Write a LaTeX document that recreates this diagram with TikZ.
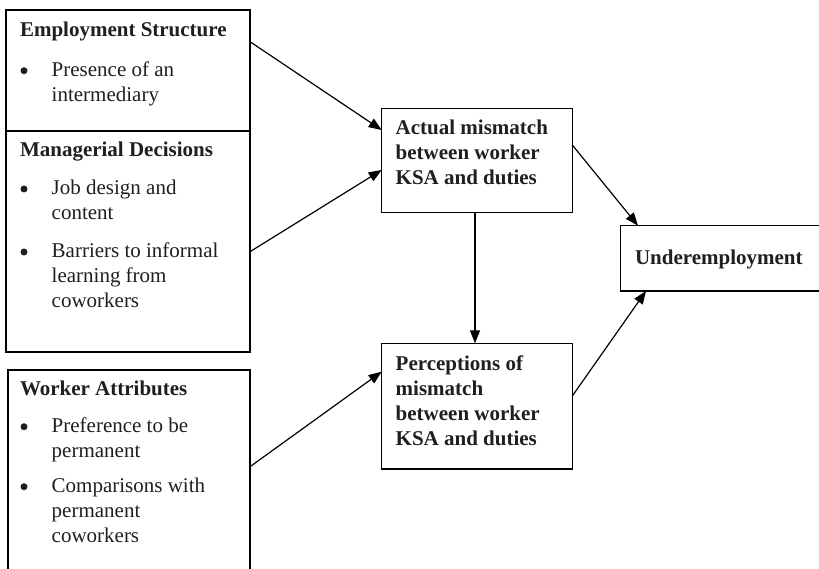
\documentclass[tikz,border=0pt]{standalone}
\usepackage{fontspec}
\setmainfont{Liberation Serif}
\usetikzlibrary{arrows.meta}
\newcommand{\bul}{\makebox[31.7pt][l]{\hspace*{0.5pt}\raisebox{2.5pt}{\tikz[x=1pt,y=1pt]\fill[black!88] (3.5,3.5) circle (3.5pt);}}}
\newcommand{\ind}{\hspace*{31.7pt}}
\begin{document}
\begin{tikzpicture}[x=1pt,y=-1pt,
  boxst/.style={draw, line width=1.2pt, inner sep=0pt, outer sep=0pt},
  txt/.style={anchor=base west, inner sep=0pt, outer sep=0pt, font=\fontsize{21}{25}\selectfont, text=black!88},
  arr/.style={line width=1.2pt, -{Triangle[length=13pt,width=10pt]}}]
\useasboundingbox (0,0) rectangle (819,569);
\clip (0,0) rectangle (819,569);
% boxes
\node[boxst, minimum width=244pt, minimum height=121pt] (es) at (128,70.5) {};
\node[boxst, minimum width=244pt, minimum height=221pt] (md) at (128,241.5) {};
\node[boxst, minimum width=242pt, minimum height=230pt] (wa) at (129,485) {};
\node[boxst, minimum width=190.6pt, minimum height=104pt] (am) at (477,160.3) {};
\node[boxst, minimum width=190.6pt, minimum height=125.7pt] (pm) at (477,406.2) {};
\node[boxst, minimum width=209.3pt, minimum height=65.3pt] (ue) at (725.35,258.35) {};
% texts
\node[txt] (tes) at (20,36.7) {\parbox[t]{228pt}{\textbf{Employment Structure}\\[15pt]
  \bul Presence of an\\ \ind intermediary}};
\node[txt] (tmd) at (20,157) {\parbox[t]{228pt}{\textbf{Managerial Decisions}\\[13pt]
  \bul Job design and\\ \ind content\\[13pt]
  \bul Barriers to informal\\ \ind learning from\\ \ind coworkers}};
\node[txt] (twa) at (20,395) {\parbox[t]{228pt}{\textbf{Worker Attributes}\\[12.7pt]
  \bul Preference to be\\ \ind permanent\\[10pt]
  \bul Comparisons with\\ \ind permanent\\ \ind coworkers}};
\node[txt] (tam) at (395.7,135) {\parbox[t]{175pt}{\bfseries Actual mismatch\\ between worker\\ KSA and duties}};
\node[txt] (tpm) at (395.7,370.7) {\parbox[t]{175pt}{\bfseries Perceptions of\\ mismatch\\ between worker\\ KSA and duties}};
\node[txt] (tue) at (635,264.3) {\textbf{Underemployment}};
% connectors
\draw[arr] ([yshift=28.8pt]es.east) -- ([yshift=30.3pt]am.west);
\draw[arr] ([yshift=-10.2pt]md.east) -- ([yshift=-9.7pt]am.west);
\draw[arr] ([xshift=-2pt]am.south) -- ([xshift=-2pt]pm.north);
\draw[arr] ([yshift=18.3pt]wa.east) -- ([yshift=34.5pt]pm.west);
\draw[arr] ([yshift=15.3pt]am.east) -- ([xshift=17.3pt]ue.north west);
\draw[arr] ([yshift=10.2pt]pm.east) -- ([xshift=25.3pt]ue.south west);
\end{tikzpicture}
\end{document}
